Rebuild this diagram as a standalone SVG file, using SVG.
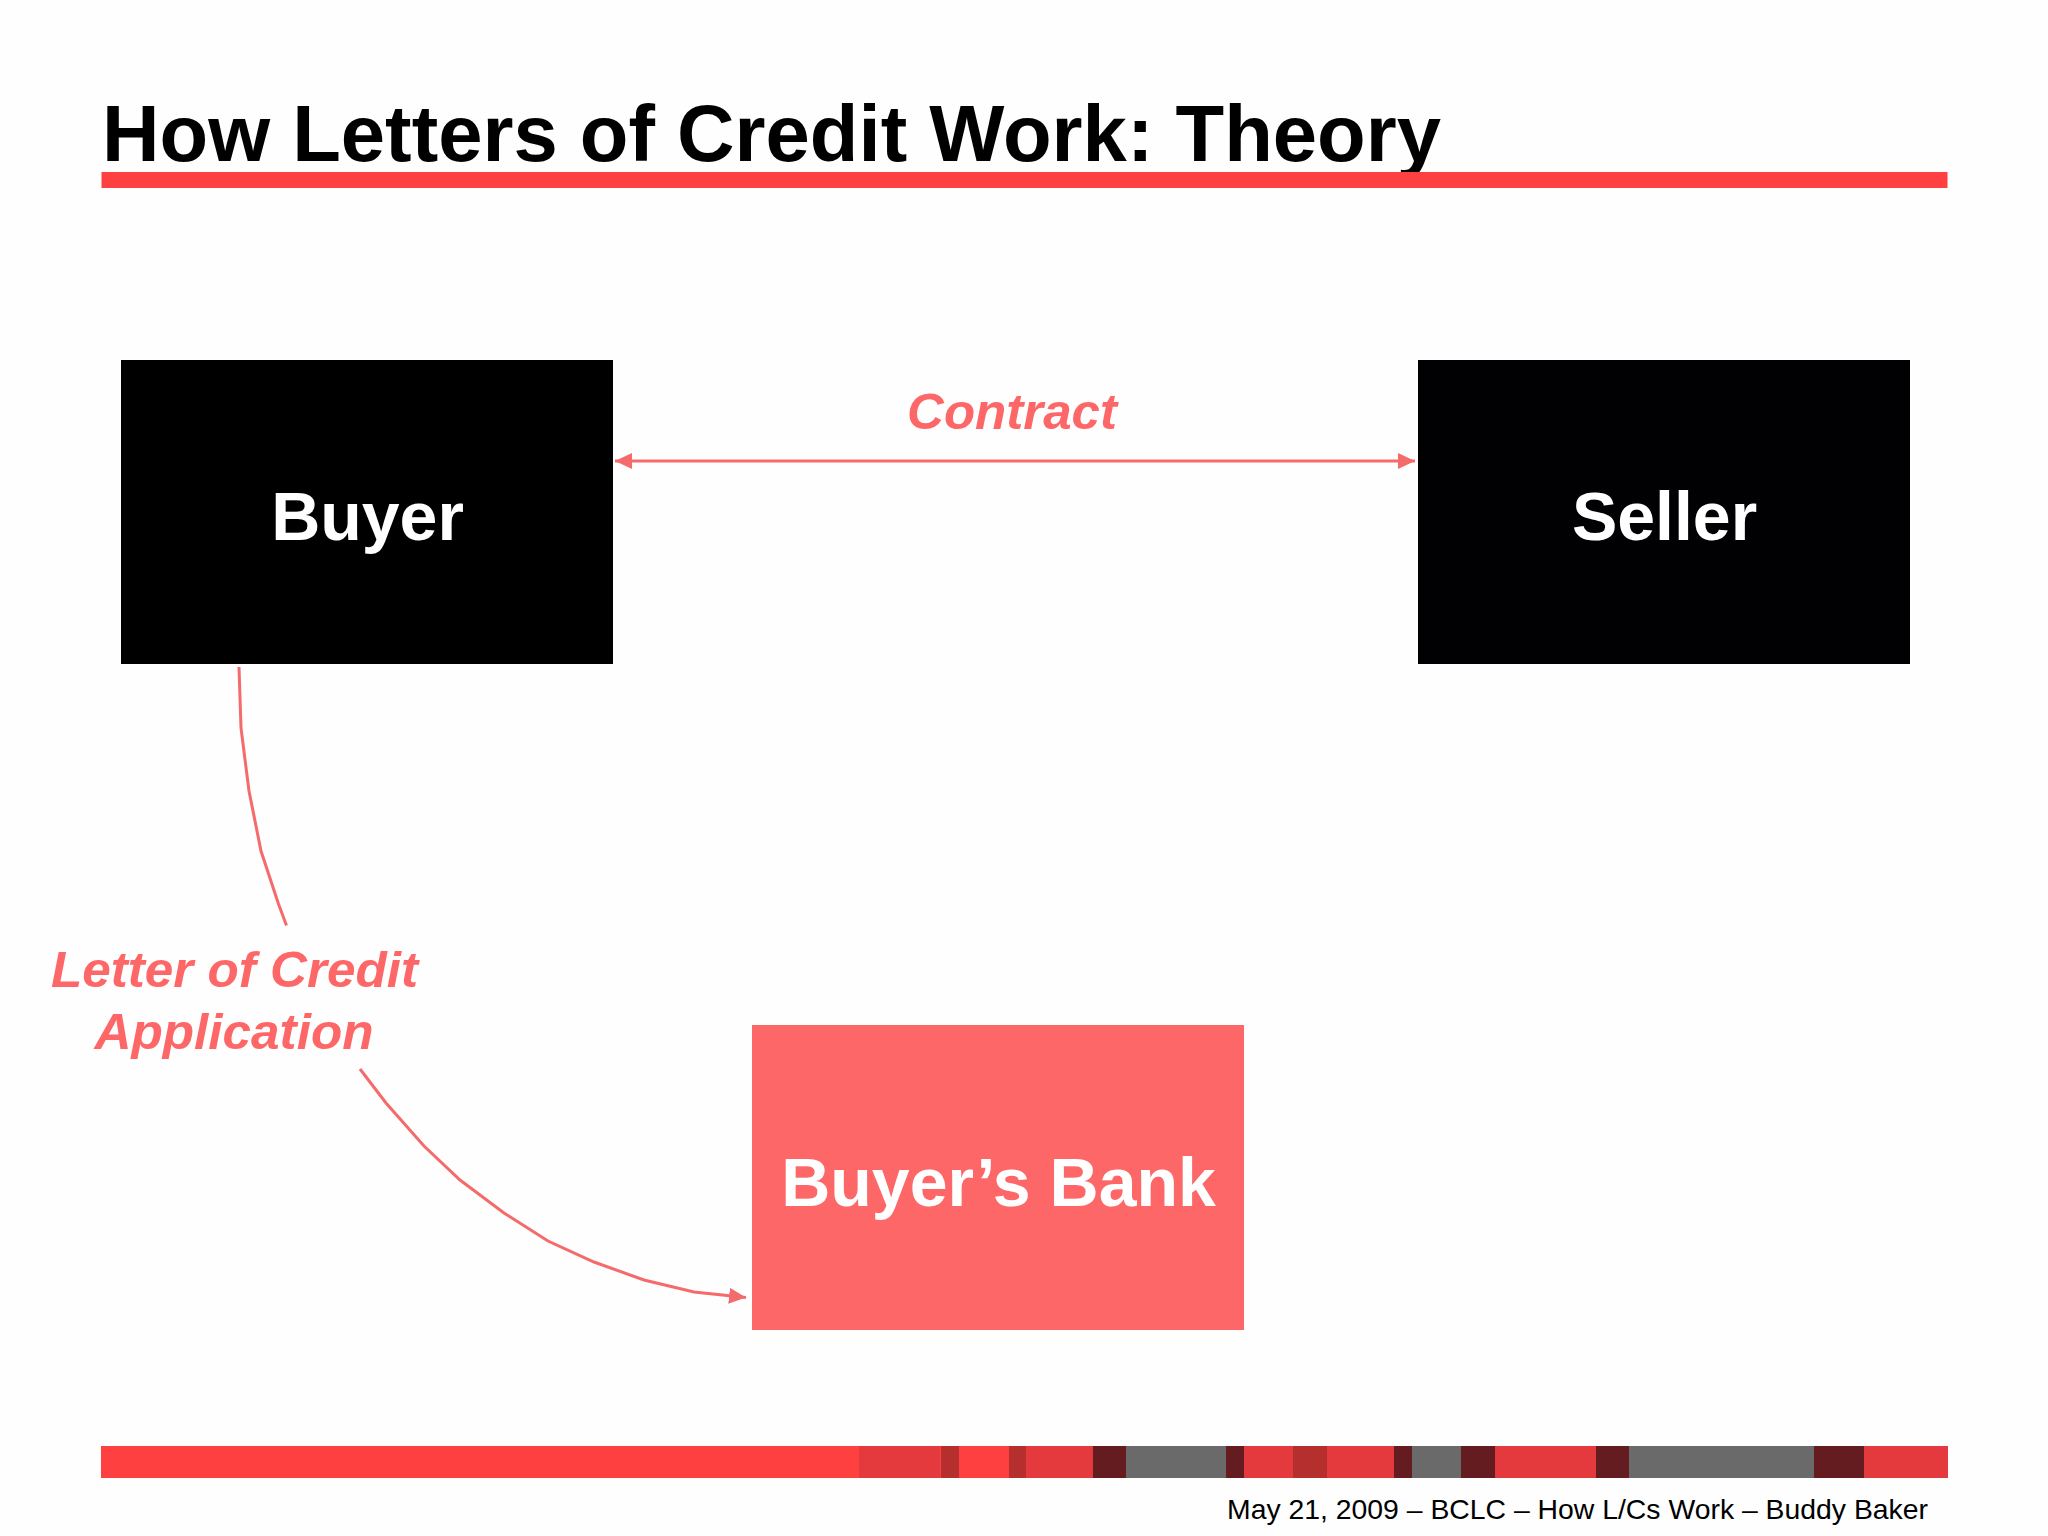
<svg xmlns="http://www.w3.org/2000/svg" width="2048" height="1536" viewBox="0 0 2048 1536">
<style>
text{font-family:"Liberation Sans",Arial,sans-serif}
.title{font-size:80px;font-weight:bold;fill:#000}
.node{font-size:68px;font-weight:bold;fill:#fff;text-anchor:middle}
.lab{font-size:50px;font-weight:bold;font-style:italic;fill:#fe6767;text-anchor:middle}
.foot{font-size:28px;fill:#000}
.conn{fill:none;stroke:#f56a6a;stroke-width:3}
.red{fill:#fe4040}.mid{fill:#e43a3e}.dk{fill:#b52f2f}.mar{fill:#641c20}.gry{fill:#6a6a6a}
</style>
<defs>
<marker id="head" viewBox="0 0 17 16" refX="17" refY="8" markerWidth="17" markerHeight="16" markerUnits="userSpaceOnUse" orient="auto-start-reverse"><path d="M0 0L17 8L0 16Z" fill="#f56a6a"/></marker>
</defs>
<rect width="2048" height="1536" fill="#fefefe"/>
<g id="header">
<text class="title" x="102" y="161" textLength="1339" lengthAdjust="spacingAndGlyphs">How Letters of Credit Work: Theory</text>
<rect class="red" x="101.500" y="172" width="1846" height="16"/>
</g>
<g id="connectors">
<path class="conn" d="M615 461H1415" marker-start="url(#head)" marker-end="url(#head)"/>
<path class="conn" d="M239 667L241 728L249 791L261 851L278.500 904L286.500 925.500"/>
<path class="conn" d="M360 1069L386 1103L424 1146L460 1180L504 1213L548 1241L594 1262L644 1280L694 1292L746 1297.500" marker-end="url(#head)"/>
</g>
<g id="buyer"><rect x="121" y="360" width="492" height="304" fill="#000"/><text class="node" x="367.500" y="539.500">Buyer</text></g>
<g id="seller"><rect x="1418" y="360" width="492" height="304" fill="#010003"/><text class="node" x="1664.500" y="539.500">Seller</text></g>
<g id="bank"><rect x="752" y="1025" width="492" height="305" fill="#fe6767"/><text class="node" x="998.500" y="1205.500">Buyer’s Bank</text></g>
<g id="labels">
<text class="lab" x="1012" y="429" textLength="210" lengthAdjust="spacingAndGlyphs">Contract</text>
<text class="lab" x="234.500" y="987" textLength="367" lengthAdjust="spacingAndGlyphs">Letter of Credit</text>
<text class="lab" x="234" y="1049" textLength="279" lengthAdjust="spacingAndGlyphs">Application</text>
</g>
<g id="footer-bar">
<rect class="red" x="101" y="1446" width="1847" height="32"/>
<rect class="mid" x="859" y="1446" width="81" height="32"/>
<rect class="dk" x="941" y="1446" width="18" height="32"/>
<rect class="dk" x="1009" y="1446" width="17" height="32"/>
<rect class="mid" x="1026" y="1446" width="67" height="32"/>
<rect class="mar" x="1093" y="1446" width="33" height="32"/>
<rect class="gry" x="1126" y="1446" width="100" height="32"/>
<rect class="mar" x="1226" y="1446" width="18" height="32"/>
<rect class="mid" x="1244" y="1446" width="49" height="32"/>
<rect class="dk" x="1293" y="1446" width="34" height="32"/>
<rect class="mid" x="1327" y="1446" width="67" height="32"/>
<rect class="mar" x="1394" y="1446" width="18" height="32"/>
<rect class="gry" x="1412" y="1446" width="49" height="32"/>
<rect class="mar" x="1461" y="1446" width="34" height="32"/>
<rect class="mid" x="1495" y="1446" width="101" height="32"/>
<rect class="mar" x="1596" y="1446" width="33" height="32"/>
<rect class="gry" x="1629" y="1446" width="185" height="32"/>
<rect class="mar" x="1814" y="1446" width="50" height="32"/>
<rect class="mid" x="1864" y="1446" width="84" height="32"/>
</g>
<text class="foot" x="1227" y="1519" textLength="701" lengthAdjust="spacingAndGlyphs">May 21, 2009 – BCLC – How L/Cs Work – Buddy Baker</text>
</svg>
